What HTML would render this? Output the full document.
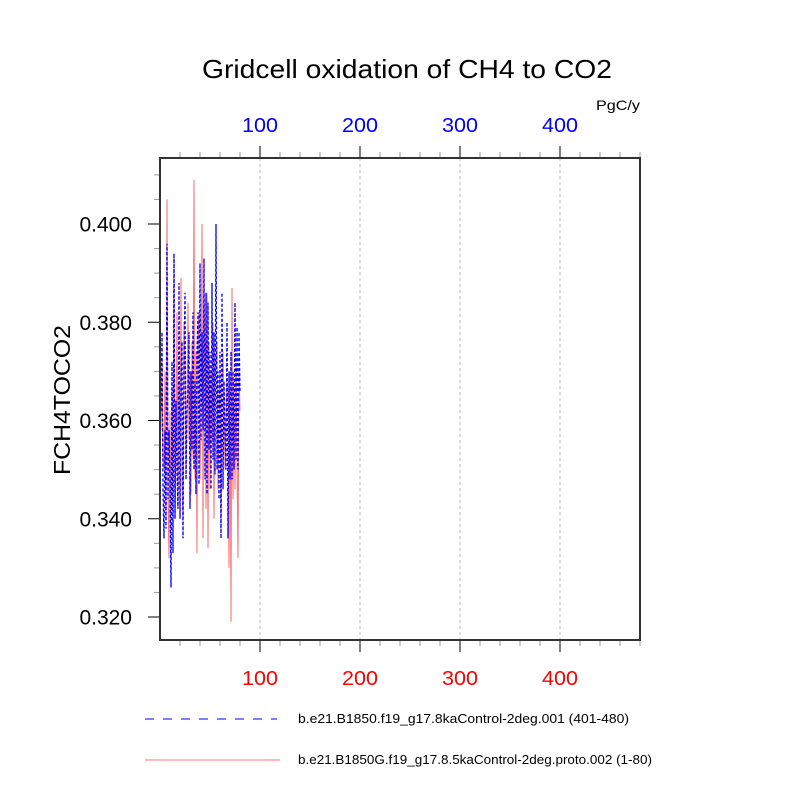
<!DOCTYPE html>
<html><head><meta charset="utf-8"><style>
body{margin:0;background:#fff;}
svg{font-family:"Liberation Sans",sans-serif;}
</style></head><body>
<svg id="chart" width="800" height="800" xmlns="http://www.w3.org/2000/svg">
<rect width="800" height="800" fill="#fff"/>
<text x="202" y="78" font-size="26" textLength="410" lengthAdjust="spacingAndGlyphs">Gridcell oxidation of CH4 to CO2</text>
<text x="596" y="110" font-size="14" textLength="44" lengthAdjust="spacingAndGlyphs">PgC/y</text>
<text transform="translate(70,475) rotate(-90)" font-size="23" textLength="150" lengthAdjust="spacingAndGlyphs">FCH4TOCO2</text>
<g id="grid"></g>
<g id="axes"></g>
<g id="series"></g>
<rect x="160" y="158" width="480" height="482" fill="none" stroke="#333" stroke-width="2"/>
<line x1="145" y1="719" x2="277" y2="719" stroke="#00f" stroke-dasharray="9,9" stroke-width="1"/>
<text x="298" y="723" font-size="12.5" textLength="331" lengthAdjust="spacingAndGlyphs">b.e21.B1850.f19_g17.8kaControl-2deg.001 (401-480)</text>
<line x1="145" y1="760" x2="280" y2="760" stroke="#f77" stroke-width="1"/>
<text x="298" y="764" font-size="12.5" textLength="354" lengthAdjust="spacingAndGlyphs">b.e21.B1850G.f19_g17.8.5kaControl-2deg.proto.002 (1-80)</text>
</svg>
<script>
const xTicks=[100,200,300,400];
const yTicks=[0.32,0.34,0.36,0.38,0.40];
const yTickLabels=["0.320","0.340","0.360","0.380","0.400"];
const redVals=[0.358,0.372,0.352,0.350,0.370,0.340,0.405,0.345,0.332,0.362,0.338,0.366,0.346,0.394,0.340,0.354,0.382,0.342,0.368,0.356,0.389,0.348,0.340,0.380,0.372,0.350,0.360,0.384,0.356,0.370,0.345,0.376,0.352,0.409,0.348,0.374,0.333,0.378,0.382,0.348,0.362,0.400,0.336,0.384,0.372,0.342,0.386,0.334,0.376,0.346,0.370,0.356,0.380,0.340,0.368,0.372,0.376,0.346,0.364,0.370,0.338,0.368,0.374,0.364,0.350,0.360,0.368,0.366,0.330,0.370,0.319,0.387,0.344,0.368,0.346,0.370,0.352,0.332,0.370,0.362];
const blueVals=[0.362,0.378,0.346,0.336,0.358,0.338,0.396,0.344,0.358,0.348,0.326,0.372,0.333,0.394,0.340,0.364,0.350,0.342,0.388,0.340,0.368,0.376,0.336,0.372,0.386,0.348,0.362,0.366,0.378,0.342,0.370,0.354,0.382,0.350,0.368,0.345,0.374,0.382,0.347,0.392,0.356,0.378,0.358,0.393,0.348,0.386,0.345,0.384,0.354,0.374,0.346,0.388,0.352,0.378,0.349,0.400,0.350,0.370,0.344,0.374,0.336,0.386,0.346,0.368,0.358,0.350,0.380,0.336,0.370,0.348,0.374,0.348,0.370,0.350,0.384,0.352,0.379,0.350,0.378,0.366];
const NS="http://www.w3.org/2000/svg";
const xs=v=>160+v*1.0;
const ys=v=>224+(0.400-v)*4912.5;
function mk(tag,attrs,parent){const e=document.createElementNS(NS,tag);for(const k in attrs)e.setAttribute(k,attrs[k]);parent.appendChild(e);return e;}
const grid=document.getElementById('grid'),axes=document.getElementById('axes'),series=document.getElementById('series');
xTicks.forEach(t=>{
  const g=mk('line',{x1:xs(t),x2:xs(t),y1:158,y2:640,stroke:'#aaa','stroke-dasharray':'3,3','stroke-width':0.8},grid);
  
  
  const bl=mk('text',{x:xs(t)-18,y:685,'font-size':20,fill:'#f00',textLength:36,lengthAdjust:'spacingAndGlyphs'},axes);bl.textContent=t;
  
  
  const tl=mk('text',{x:xs(t)-18,y:132,'font-size':20,fill:'#00f',textLength:36,lengthAdjust:'spacingAndGlyphs'},axes);tl.textContent=t;
  
  
});
for(let t=20;t<=480;t+=20){
  const major=t%100===0,len=major?12:6,col=major?'#000':'#999';
  mk('line',{x1:xs(t),x2:xs(t),y1:641,y2:640+len,stroke:col},axes);
  mk('line',{x1:xs(t),x2:xs(t),y1:157,y2:158-len,stroke:col},axes);
}
yTicks.forEach((t,i)=>{
  const l=mk('text',{x:132,y:ys(t)+7.5,'font-size':21,'text-anchor':'end'},axes);l.textContent=yTickLabels[i];
  
  
});
for(let k=0;k<20;k++){
  const v=0.315+k*0.005;const y=ys(v);if(y<158||y>640)continue;
  const major=k%4===1;
  const len=major?12:6,col=major?'#000':'#999';
  mk('line',{x1:160-len,x2:159,y1:y,y2:y,stroke:col},axes);
}
function path(vals){return vals.map((v,i)=>(i?'L':'M')+xs(i+1).toFixed(1)+','+ys(v).toFixed(1)).join(' ');}
const red=mk('path',{d:path(redVals),fill:'none',stroke:'#f77','stroke-width':1.1},series);


const blue=mk('path',{d:path(blueVals),fill:'none',stroke:'#00f','stroke-width':1.3,'stroke-dasharray':'3,2'},series);


</script>
</body></html>
